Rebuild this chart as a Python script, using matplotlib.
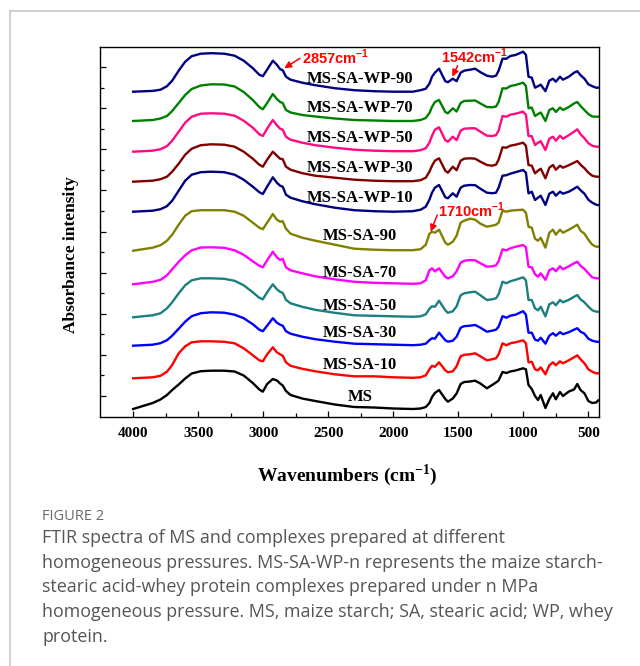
import numpy as np
import matplotlib
matplotlib.use("Agg")
import matplotlib.pyplot as plt
from matplotlib.lines import Line2D

plt.rcParams['mathtext.fontset'] = 'custom'
plt.rcParams['mathtext.rm'] = 'Liberation Serif'
plt.rcParams['mathtext.bf'] = 'Liberation Serif:bold'
plt.rcParams['mathtext.sf'] = 'Liberation Sans:bold'

wavenumber = [4000, 3850, 3790, 3740, 3700, 3650, 3600, 3550, 3480, 3400,
              3300, 3220, 3150, 3080, 3030, 3003, 2970, 2926, 2895, 2870,
              2850, 2825, 2790, 2700, 2600, 2450, 2300, 2150, 2000,
              1850, 1790, 1750, 1722, 1702, 1680, 1648, 1600, 1580, 1542,
              1513, 1482, 1455, 1410, 1370, 1330, 1280, 1240, 1210, 1190,
              1160, 1130, 1100, 1060, 1002, 980, 960, 935, 910, 887,
              866, 830, 800, 772, 750, 718, 695, 650, 610, 585,
              560, 530, 500, 470, 440, 425]

# absorbance of each sample above its own baseline (arbitrary units)
ms = [0, 6, 9.5, 14, 19, 24.5, 30.5, 35.5, 37.8, 38.3, 38.3, 37.5, 33.5, 26, 19.5, 17.3, 25, 30, 28.5, 25.5,
      23.5, 18, 14, 10.5, 8, 4.5, 2, 1.5, 0.5,
      0, 0.5, 2, 6, 12, 16, 19, 10, 7.3, 10.5, 15.5, 25, 27, 27.5, 28.3, 25.5, 20.7, 24, 26.5, 28.5,
      37, 36, 37.5, 38.5, 40.7, 39.7, 24, 20, 13, 9, 14, 1, 10, 15.7, 9.7, 17, 13, 17.5, 19.5, 25,
      19, 15.7, 8, 6, 6.5, 8.5]
ms_sa_10 = [0, 1, 2.5, 6.6, 13.3, 25, 32, 36, 37, 37, 36.5, 35, 30, 23, 18, 17, 24, 31, 26, 24,
            22.5, 16, 12.5, 9.5, 7, 4, 2, 2, 1,
            0.5, 1, 3, 9, 12.5, 11.5, 16, 8, 6, 7, 12, 22, 23.5, 24, 25, 22, 18, 19, 20, 24,
            35, 33, 35, 36, 38, 35, 16, 16.5, 9, 8, 11, 4, 13, 16, 13, 17, 15, 18, 21, 23,
            19, 15, 9, 6.5, 5, 5]
ms_sa_30 = [0, 1, 2.5, 5.5, 10, 17, 24, 29.5, 32.5, 33.4, 33, 31, 27.5, 21.5, 16, 14.5, 20, 27.5, 23, 21,
            20, 14.5, 12, 9, 6.5, 4, 2, 1.5, 1,
            0.5, 1, 2, 5.5, 7.5, 7, 13, 5.5, 4, 5, 9, 18, 19.5, 20, 20.7, 18, 14, 15, 16, 19,
            29.5, 28, 30, 31, 34.5, 31, 13, 13, 6, 5, 8, 2, 10, 12.5, 10, 13.5, 11.5, 13.5, 16, 17.5,
            14, 12, 7, 5, 4, 4]
ms_sa_50 = [0, 2, 4, 9, 15, 24, 32, 37, 39, 39, 38.5, 36.5, 32, 25, 19.5, 18, 25, 33, 28, 25.5,
            24.5, 17.5, 14, 10.5, 7.5, 4.5, 2, 1.5, 1,
            0.5, 1, 3, 8.5, 11, 10.5, 16.6, 7, 4.5, 6, 11, 22, 24, 25, 25.6, 22, 17.3, 18, 19, 23,
            35.6, 34, 36, 37.5, 40, 37, 17.3, 17.3, 9, 7, 10.5, 1, 13, 15, 12, 17.3, 15, 17.5, 20.5, 22.3,
            18, 15, 10.7, 7, 5.7, 5.5]
ms_sa_70 = [0, 2.5, 4.5, 9, 15, 22.5, 29, 34, 36.8, 37, 36.5, 34, 29.5, 23, 18.5, 17, 24, 32.6, 27, 24.3,
            25.5, 17, 14, 11, 8, 5, 2.5, 1.5, 1,
            0.5, 1, 4, 14, 16, 13, 16, 7.5, 6, 8, 13, 21.5, 23.5, 24.3, 24, 21, 17.6, 18, 19, 23,
            35, 34, 36, 37.5, 39.3, 37, 17.6, 17, 10, 7.6, 11, 4.5, 14, 16, 13, 18, 15, 18, 21, 22.6,
            18.5, 15.5, 11, 7, 6, 6]
ms_sa_90 = [0, 3, 5.5, 10, 16, 26, 35, 39.5, 40.5, 40.5, 40.5, 39, 35, 28, 23, 21.5, 28, 36.7, 31, 29,
            29.5, 22, 17, 13, 10, 6, 2, 1, 0.5,
            0.5, 1.5, 6, 17, 19, 18, 21, 8, 6, 9, 15, 28, 30, 32, 31, 27, 24, 25, 26, 28,
            40, 39, 40, 40.5, 41, 38, 24, 23, 12, 10, 13, 3, 18, 21, 16, 21, 18, 21, 24, 26,
            20, 17, 11, 6, 4, 4]
ms_sa_wp_10 = [0, 1, 2.5, 5.5, 11, 21, 31, 37, 39.5, 40, 39.5, 37, 32, 25, 19.5, 17.7, 25, 34.4, 29, 26,
               25, 17, 14, 10.5, 7.5, 4, 1.5, 0.5, 0,
               0.5, 2, 5, 12, 19, 24, 26.7, 14.5, 13.4, 18.4, 15, 24, 26, 26.7, 26.5, 23, 19, 18.5, 19, 24,
               36, 36.5, 38, 39.5, 41.7, 39, 18.4, 20, 11.7, 14, 16, 6.7, 18, 20, 16, 20, 18, 20, 23, 25,
               21.5, 18, 12, 9, 7, 6.7]
ms_sa_wp_30 = [0, 1, 2.5, 5, 10, 18, 27, 33, 36.5, 37.4, 37, 35, 30, 23, 17, 15, 22, 30, 26, 23,
               22.5, 15, 12, 8.5, 6, 4, 2, 1, 0.5,
               0.5, 1.5, 4, 10, 16, 21, 23.4, 11, 9, 15, 11.5, 21, 23, 23.4, 23, 20, 16.7, 16, 17, 22,
               34.4, 34, 36, 37, 39, 36, 16.7, 16, 8.4, 11, 13, 3.4, 14, 16.7, 12, 16, 14, 16.5, 19, 20.7,
               17, 13.5, 9, 6, 5, 5]
ms_sa_wp_50 = [0, 1, 2.5, 5.5, 11, 20, 29, 35, 38, 38.4, 38, 36, 31, 24, 17.5, 15.7, 23, 31.7, 26.5, 23,
               22, 15, 12, 9, 6.5, 4, 2, 1, 0.5,
               0.5, 1.5, 3.5, 9, 16, 22, 24.4, 11.5, 10, 15, 11.5, 21, 23, 23.4, 23.4, 20, 16, 15.7, 16.5, 21,
               35.7, 35, 37, 38, 40, 37, 15.7, 15.5, 6.7, 9, 10.5, 1.7, 13, 15, 11, 16, 13, 16.5, 20, 22.4,
               17.5, 13.5, 8.5, 6, 5, 5]
ms_sa_wp_70 = [0, 1, 2.5, 5, 10, 18, 26, 32, 35.5, 36.7, 36.5, 34.5, 29, 21, 14, 11.7, 18, 27, 22, 19,
               18, 11, 8.5, 6, 4.5, 2.5, 1, 0.5, 0,
               0, 1, 3, 8, 14, 19, 21, 9, 7.7, 12.7, 9.5, 18, 20, 20.3, 20.5, 17.5, 14, 13.7, 14.5, 19,
               32.7, 32.5, 35, 36, 38.3, 35, 12.7, 13.5, 5, 7, 8.5, 0, 11, 12.7, 9, 13.5, 11, 14, 17.5, 19,
               15, 11, 7, 4.5, 4.3, 4.3]
ms_sa_wp_90 = [0, 0.8, 2, 5.5, 11, 21, 30, 35.5, 38, 38.5, 38, 36, 31, 23.5, 17, 15.5, 22, 31, 27, 22.5,
               21.5, 15, 12, 9, 6.5, 3.5, 1.5, 0.5, 0,
               0, 1.5, 3, 8, 15, 19, 23, 10.5, 9.5, 13, 10.5, 19, 21, 22, 23, 19.5, 16, 15, 16, 21,
               33, 33, 35.7, 36.7, 40, 37, 15, 14, 4, 5.5, 7, 0.5, 11, 13, 10, 15, 12, 15, 19, 20.5,
               16.5, 13, 7.5, 5.5, 4, 4]

names = ['MS', 'MS-SA-10', 'MS-SA-30', 'MS-SA-50', 'MS-SA-70', 'MS-SA-90',
         'MS-SA-WP-10', 'MS-SA-WP-30', 'MS-SA-WP-50', 'MS-SA-WP-70', 'MS-SA-WP-90']
spectra = [ms, ms_sa_10, ms_sa_30, ms_sa_50, ms_sa_70, ms_sa_90,
           ms_sa_wp_10, ms_sa_wp_30, ms_sa_wp_50, ms_sa_wp_70, ms_sa_wp_90]
offsets = [8, 38.7, 71.3, 99.7, 132.7, 166.3, 205.3, 235.3, 265.3, 296, 325.3]
label_y = [16, 47.7, 80.3, 107, 139.7, 177, 215, 245.3, 275.3, 305.3, 334.3]
colors = ['#000000', '#ff0000', '#0000ff', '#1a7f7f', '#ff00ff', '#808000',
          '#000080', '#800000', '#ff0a80', '#008000', '#000080']

# marked bands: text, label position, arrow tail, arrow head
bands = ['2857', '1542', '1710']
band_text_pos = [(2705, 353), (1633, 353.7), (1654, 200.3)]
band_tail = [(2718, 358.7), (1505, 351.3), (1662, 202)]
band_head = [(2838, 348.7), (1546, 340.3), (1712, 185.3)]

fig = plt.figure(figsize=(6.4, 6.66), dpi=100)
ax = fig.add_axes([100 / 640, 1 - 417 / 666, 499 / 640, 370 / 666])

serif = 'Liberation Serif'
for h, off, c in zip(spectra, offsets, colors):
    ax.plot(wavenumber, off + np.array(h), color=c, lw=1.7, solid_joinstyle='round')

for name, y in zip(names, label_y):
    ax.text(2254, y, name, ha='center', va='baseline', fontsize=12,
            fontweight='bold', family=serif)

for b, tp, tail, head in zip(bands, band_text_pos, band_tail, band_head):
    ax.annotate('', xy=head, xytext=tail,
                arrowprops=dict(arrowstyle='-|>', color='red', lw=1.1,
                                mutation_scale=10, shrinkA=0, shrinkB=0))
    ax.text(tp[0], tp[1], b + r'cm$^{\mathsf{-1}}$', color='red', fontsize=10.5,
            fontweight='bold', family='Liberation Sans', ha='left', va='baseline')

ax.set_xlim(4255, 418)
ax.set_ylim(0, 370)
ax.set_xticks([4000, 3500, 3000, 2500, 2000, 1500, 1000, 500])
ax.set_xticks(np.arange(3750, 400, -500), minor=True)
ax.set_yticks(np.linspace(21, 350, 9))
ax.set_yticks(np.linspace(41.6, 329.4, 8), minor=True)
ax.set_yticklabels([])
ax.tick_params(which='both', direction='in', top=False, right=False, width=0.9)
ax.tick_params(which='major', length=4.5)
ax.tick_params(which='minor', length=3)
ax.tick_params(axis='x', pad=7, labelsize=11)
for lab in ax.get_xticklabels():
    lab.set_fontfamily(serif)
    lab.set_fontweight('bold')
for s in ax.spines.values():
    s.set_linewidth(1.0)

fig.text(347 / 640, 1 - 481 / 666, r'Wavenumbers (cm$^{\mathbf{-1}}$)', ha='center',
         va='baseline', fontsize=14, fontweight='bold', family=serif)
fig.text(71 / 640, 1 - 255 / 666, 'Absorbance intensity', ha='center', va='center',
         rotation=90, fontsize=12.5, fontweight='bold', family=serif)

# card frame
fig.add_artist(Line2D([10 / 640, 1], [1 - 11 / 666, 1 - 11 / 666],
                      transform=fig.transFigure, color='#c8c8c8', lw=1.2))
fig.add_artist(Line2D([10 / 640, 10 / 640], [0, 1 - 11 / 666],
                      transform=fig.transFigure, color='#c8c8c8', lw=1.2))

caption = ['FTIR spectra of MS and complexes prepared at different',
           'homogeneous pressures. MS-SA-WP-n represents the maize starch-',
           'stearic acid-whey protein complexes prepared under n MPa',
           'homogeneous pressure. MS, maize starch; SA, stearic acid; WP, whey',
           'protein.']
fig.text(42 / 640, 1 - 520 / 666, 'FIGURE 2', color='#6a6a6a', fontsize=10.5,
         family='Open Sans', va='baseline')
for i, line in enumerate(caption):
    fig.text(42 / 640, 1 - (543 + 24.7 * i) / 666, line, color='#555555',
             fontsize=12.9, family='Open Sans', va='baseline')

fig.savefig('out.png', dpi=100)
